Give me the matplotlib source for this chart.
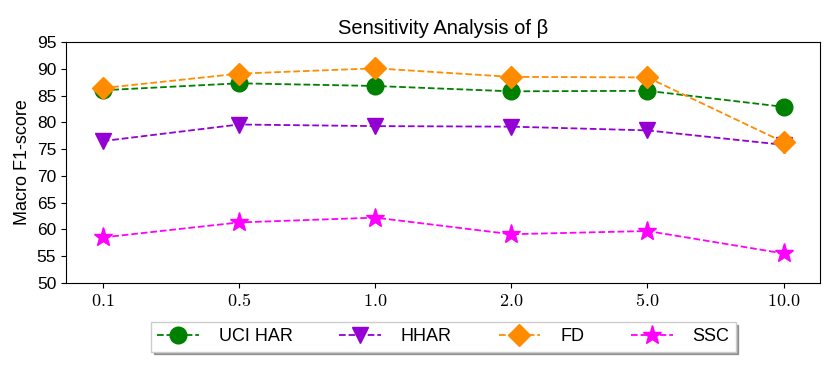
import matplotlib
matplotlib.use("Agg")

import matplotlib.pyplot as plt

plt.rcParams["font.family"] = ["Liberation Sans", "DejaVu Sans"]
plt.rcParams["mathtext.fontset"] = "cm"

betas = ["0.1", "0.5", "1.0", "2.0", "5.0", "10.0"]
uci_har = [86.0, 87.3, 86.8, 85.8, 85.9, 82.9]
hhar = [76.5, 79.6, 79.3, 79.2, 78.5, 75.8]
fd = [86.4, 89.1, 90.1, 88.5, 88.4, 76.3]
ssc = [58.5, 61.3, 62.2, 59.1, 59.7, 55.5]

series = [
    ("UCI HAR", uci_har, "green", "o", 12),
    ("HHAR", hhar, "darkviolet", "v", 12),
    ("FD", fd, "darkorange", "D", 11),
    ("SSC", ssc, "magenta", "*", 14),
]

fig = plt.figure(figsize=(8.3, 3.66), dpi=100)
ax = fig.add_axes([0.0795, 0.227, 0.909, 0.658])

x = list(range(len(betas)))
for name, vals, color, marker, ms in series:
    ax.plot(x, vals, linestyle="--", color=color, marker=marker,
            markersize=ms, linewidth=1.3, label=name)

ax.set_xlim(-0.27, 5.27)
ax.set_ylim(50, 95)
ax.set_yticks(range(50, 96, 5))
ax.set_xticks(x)
ax.set_xticklabels([f"${b}$" for b in betas], fontsize=13)
ax.tick_params(axis="y", labelsize=12.5)
ax.set_ylabel("Macro F1-score", fontsize=13)
ax.set_title("Sensitivity Analysis of β", fontsize=14.5, pad=6)

ax.legend(loc="upper center", bbox_to_anchor=(0.5, -0.125), ncol=4,
          fontsize=13, shadow=True, fancybox=False, columnspacing=2.6,
          handlelength=2.3, handletextpad=1.1, borderpad=0.35)

plt.savefig("out.png", dpi=100)
plt.close(fig)
